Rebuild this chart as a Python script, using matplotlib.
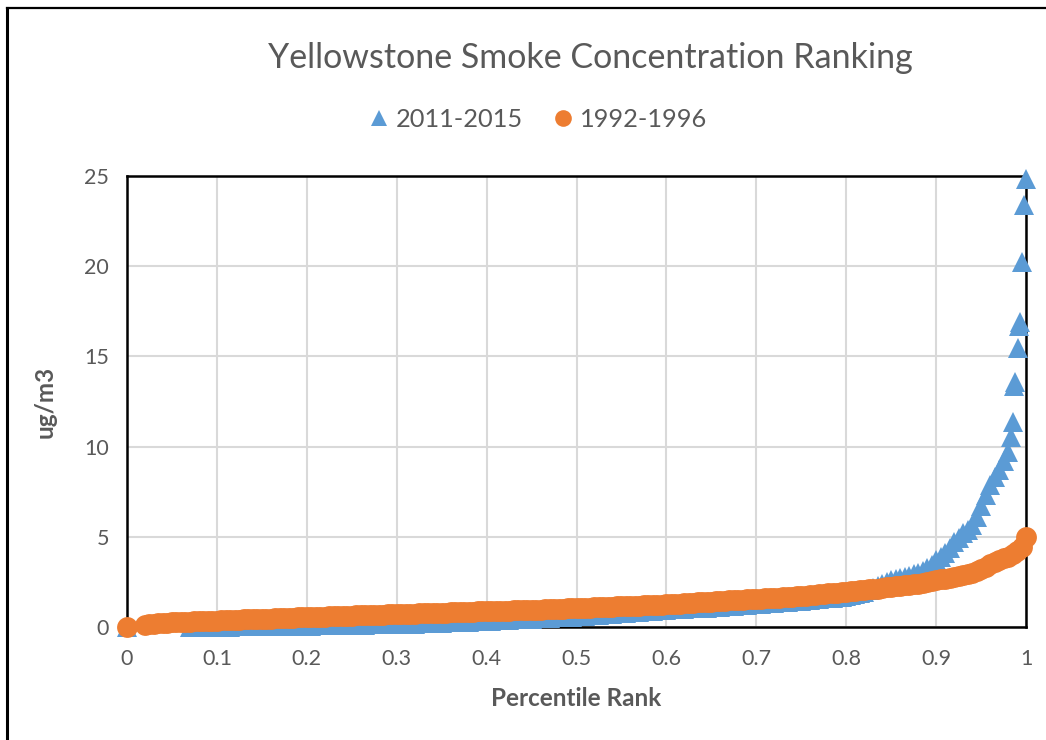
import matplotlib
matplotlib.use('Agg')
import matplotlib.pyplot as plt
from matplotlib.lines import Line2D

plt.rcParams['font.family'] = ['Lato', 'DejaVu Sans']

# 2011-2015: percentile rank and concentration (ug/m3)
rank_2011 = [0.000,
             0.070, 0.075, 0.080, 0.085, 0.090, 0.095,
             0.100, 0.105, 0.110, 0.115, 0.120, 0.125, 0.130, 0.135, 0.140, 0.145,
             0.150, 0.155, 0.160, 0.165, 0.170, 0.175, 0.180, 0.185, 0.190, 0.195,
             0.200, 0.205, 0.210, 0.215, 0.220, 0.225, 0.230, 0.235, 0.240, 0.245,
             0.250, 0.255, 0.260, 0.265, 0.270, 0.275, 0.280, 0.285, 0.290, 0.295,
             0.300, 0.305, 0.310, 0.315, 0.320, 0.325, 0.330, 0.335, 0.340, 0.345,
             0.350, 0.355, 0.360, 0.365, 0.370, 0.375, 0.380, 0.385, 0.390, 0.395,
             0.400, 0.405, 0.410, 0.415, 0.420, 0.425, 0.430, 0.435, 0.440, 0.445,
             0.450, 0.455, 0.460, 0.465, 0.470, 0.475, 0.480, 0.485, 0.490, 0.495,
             0.500, 0.505, 0.510, 0.515, 0.520, 0.525, 0.530, 0.535, 0.540, 0.545,
             0.550, 0.555, 0.560, 0.565, 0.570, 0.575, 0.580, 0.585, 0.590, 0.595,
             0.600, 0.605, 0.610, 0.615, 0.620, 0.625, 0.630, 0.635, 0.640, 0.645,
             0.650, 0.655, 0.660, 0.665, 0.670, 0.675, 0.680, 0.685, 0.690, 0.695,
             0.700, 0.705, 0.710, 0.715, 0.720, 0.725, 0.730, 0.735, 0.740, 0.745,
             0.750, 0.755, 0.760, 0.765, 0.770, 0.775, 0.780, 0.785, 0.790, 0.795,
             0.800, 0.805, 0.810, 0.815, 0.820, 0.825, 0.830, 0.835, 0.840, 0.845,
             0.850, 0.855, 0.860, 0.865, 0.870, 0.875, 0.880, 0.885, 0.890, 0.895,
             0.900, 0.905, 0.910, 0.915, 0.920, 0.925, 0.930, 0.935, 0.940, 0.945,
             0.950, 0.955, 0.960, 0.965, 0.970, 0.975,
             0.980, 0.983, 0.985, 0.987, 0.988, 0.991, 0.992, 0.993, 0.996, 0.998, 1.000]
conc_2011 = [0.00,
             0.00, 0.00, 0.00, 0.00, 0.01, 0.01,
             0.02, 0.02, 0.02, 0.02, 0.03, 0.03, 0.03, 0.03, 0.04, 0.04,
             0.05, 0.05, 0.05, 0.05, 0.06, 0.06, 0.07, 0.07, 0.07, 0.07,
             0.08, 0.08, 0.09, 0.09, 0.10, 0.10, 0.10, 0.10, 0.11, 0.11,
             0.12, 0.12, 0.13, 0.13, 0.14, 0.14, 0.15, 0.15, 0.16, 0.16,
             0.17, 0.17, 0.18, 0.18, 0.19, 0.20, 0.21, 0.21, 0.22, 0.23,
             0.24, 0.25, 0.26, 0.27, 0.28, 0.29, 0.30, 0.31, 0.32, 0.33,
             0.35, 0.36, 0.37, 0.38, 0.40, 0.41, 0.42, 0.43, 0.45, 0.46,
             0.47, 0.48, 0.50, 0.51, 0.52, 0.53, 0.55, 0.56, 0.57, 0.58,
             0.60, 0.61, 0.63, 0.65, 0.67, 0.68, 0.70, 0.72, 0.74, 0.76,
             0.78, 0.79, 0.81, 0.83, 0.85, 0.87, 0.89, 0.91, 0.93, 0.95,
             0.97, 0.98, 1.00, 1.01, 1.02, 1.03, 1.05, 1.06, 1.07, 1.08,
             1.10, 1.11, 1.13, 1.14, 1.16, 1.18, 1.20, 1.21, 1.23, 1.25,
             1.27, 1.29, 1.31, 1.32, 1.34, 1.36, 1.38, 1.40, 1.42, 1.44,
             1.46, 1.48, 1.50, 1.53, 1.56, 1.58, 1.61, 1.63, 1.66, 1.69,
             1.73, 1.77, 1.82, 1.88, 1.95, 2.05, 2.15, 2.28, 2.40, 2.50,
             2.58, 2.65, 2.72, 2.78, 2.85, 2.92, 3.00, 3.10, 3.25, 3.45,
             3.70, 3.90, 4.10, 4.40, 4.70, 4.95, 5.20, 5.40, 5.65, 6.10,
             6.70, 7.30, 7.85, 8.30, 8.70, 9.20,
             9.70, 10.55, 11.35, 13.35, 13.60, 15.45, 16.70, 16.90, 20.25, 23.40, 24.85]

# 1992-1996: percentile rank and concentration (ug/m3)
rank_1992 = [0.000,
             0.020, 0.025, 0.030, 0.035, 0.040, 0.045, 0.050, 0.055,
             0.060, 0.065, 0.070, 0.075, 0.080, 0.085, 0.090, 0.095,
             0.100, 0.105, 0.110, 0.115, 0.120, 0.125, 0.130, 0.135, 0.140, 0.145,
             0.150, 0.155, 0.160, 0.165, 0.170, 0.175, 0.180, 0.185, 0.190, 0.195,
             0.200, 0.205, 0.210, 0.215, 0.220, 0.225, 0.230, 0.235, 0.240, 0.245,
             0.250, 0.255, 0.260, 0.265, 0.270, 0.275, 0.280, 0.285, 0.290, 0.295,
             0.300, 0.305, 0.310, 0.315, 0.320, 0.325, 0.330, 0.335, 0.340, 0.345,
             0.350, 0.355, 0.360, 0.365, 0.370, 0.375, 0.380, 0.385, 0.390, 0.395,
             0.400, 0.405, 0.410, 0.415, 0.420, 0.425, 0.430, 0.435, 0.440, 0.445,
             0.450, 0.455, 0.460, 0.465, 0.470, 0.475, 0.480, 0.485, 0.490, 0.495,
             0.500, 0.505, 0.510, 0.515, 0.520, 0.525, 0.530, 0.535, 0.540, 0.545,
             0.550, 0.555, 0.560, 0.565, 0.570, 0.575, 0.580, 0.585, 0.590, 0.595,
             0.600, 0.605, 0.610, 0.615, 0.620, 0.625, 0.630, 0.635, 0.640, 0.645,
             0.650, 0.655, 0.660, 0.665, 0.670, 0.675, 0.680, 0.685, 0.690, 0.695,
             0.700, 0.705, 0.710, 0.715, 0.720, 0.725, 0.730, 0.735, 0.740, 0.745,
             0.750, 0.755, 0.760, 0.765, 0.770, 0.775, 0.780, 0.785, 0.790, 0.795,
             0.800, 0.805, 0.810, 0.815, 0.820, 0.825, 0.830, 0.835, 0.840, 0.845,
             0.850, 0.855, 0.860, 0.865, 0.870, 0.875, 0.880, 0.885, 0.890, 0.895,
             0.900, 0.905, 0.910, 0.915, 0.920, 0.925, 0.930, 0.935, 0.940, 0.945,
             0.950, 0.955, 0.960, 0.965, 0.970, 0.975, 0.980, 0.985, 0.990, 0.995,
             1.000]
conc_1992 = [0.00,
             0.12, 0.15, 0.18, 0.20, 0.22, 0.24, 0.25, 0.27,
             0.28, 0.29, 0.30, 0.31, 0.32, 0.33, 0.34, 0.35,
             0.36, 0.37, 0.38, 0.39, 0.40, 0.41, 0.42, 0.43, 0.44, 0.45,
             0.46, 0.46, 0.47, 0.48, 0.49, 0.50, 0.51, 0.52, 0.53, 0.54,
             0.55, 0.55, 0.56, 0.57, 0.58, 0.59, 0.60, 0.61, 0.62, 0.62,
             0.63, 0.64, 0.65, 0.65, 0.66, 0.67, 0.68, 0.69, 0.70, 0.70,
             0.71, 0.72, 0.73, 0.73, 0.74, 0.75, 0.76, 0.76, 0.77, 0.78,
             0.79, 0.80, 0.81, 0.81, 0.82, 0.83, 0.84, 0.85, 0.86, 0.86,
             0.87, 0.88, 0.89, 0.90, 0.91, 0.91, 0.92, 0.93, 0.94, 0.95,
             0.96, 0.96, 0.97, 0.98, 0.99, 1.00, 1.01, 1.02, 1.03, 1.04,
             1.05, 1.06, 1.07, 1.08, 1.09, 1.10, 1.11, 1.12, 1.13, 1.14,
             1.15, 1.16, 1.17, 1.18, 1.19, 1.20, 1.21, 1.22, 1.23, 1.24,
             1.25, 1.27, 1.28, 1.30, 1.31, 1.33, 1.34, 1.36, 1.37, 1.39,
             1.40, 1.42, 1.44, 1.45, 1.47, 1.48, 1.50, 1.51, 1.53, 1.54,
             1.56, 1.57, 1.59, 1.60, 1.62, 1.63, 1.65, 1.66, 1.68, 1.70,
             1.72, 1.74, 1.76, 1.78, 1.81, 1.83, 1.86, 1.88, 1.91, 1.93,
             1.96, 1.98, 2.01, 2.03, 2.06, 2.08, 2.11, 2.13, 2.16, 2.19,
             2.22, 2.25, 2.28, 2.31, 2.34, 2.37, 2.41, 2.45, 2.49, 2.54,
             2.60, 2.64, 2.68, 2.72, 2.77, 2.81, 2.86, 2.92, 2.99, 3.08,
             3.20, 3.35, 3.50, 3.60, 3.70, 3.80, 3.90, 4.05, 4.20, 4.45,
             5.00]

x_ticks = [0, 0.1, 0.2, 0.3, 0.4, 0.5, 0.6, 0.7, 0.8, 0.9, 1]
x_tick_labels = ['0', '0.1', '0.2', '0.3', '0.4', '0.5', '0.6', '0.7', '0.8', '0.9', '1']
y_ticks = [0, 5, 10, 15, 20, 25]

blue = '#5B9BD5'
orange = '#ED7D31'
text_gray = '#595959'

fig = plt.figure(figsize=(10.46, 7.4), dpi=100)
ax = fig.add_axes([0.1214, 0.1527, 0.8595, 0.6095])

ax.plot(rank_2011, conc_2011, linestyle='none', marker='^', markersize=14,
        markeredgewidth=0, color=blue, label='2011-2015', clip_on=False, zorder=3)
ax.plot(rank_1992, conc_1992, linestyle='none', marker='o', markersize=15,
        markeredgewidth=0, color=orange, label='1992-1996', clip_on=False, zorder=4)

ax.set_xlim(0, 1)
ax.set_ylim(0, 25)
ax.set_xticks(x_ticks)
ax.set_xticklabels(x_tick_labels)
ax.set_yticks(y_ticks)
ax.grid(True, color='#d9d9d9', linewidth=1.5)
ax.set_axisbelow(True)
ax.tick_params(length=0, labelsize=15.5, labelcolor=text_gray)
ax.tick_params(axis='x', pad=16)
ax.tick_params(axis='y', pad=13)
for side in ['left', 'right', 'top', 'bottom']:
    ax.spines[side].set_color('black')
    ax.spines[side].set_linewidth(1.8)
    ax.spines[side].set_zorder(2.5)

ax.set_xlabel('Percentile Rank', fontsize=17.5, fontweight='bold', color=text_gray, labelpad=13)
ax.set_ylabel('ug/m3', fontsize=17.5, fontweight='bold', color=text_gray, labelpad=20)

fig.text(0.5645, 0.921, 'Yellowstone Smoke Concentration Ranking', fontsize=24.5,
         color=text_gray, ha='center', va='center')

leg = fig.legend(loc='center', bbox_to_anchor=(0.513, 0.838), ncol=2, frameon=False,
                 fontsize=18.3, handlelength=1.0, handletextpad=0.15, columnspacing=1.1,
                 markerscale=0.8)
for t in leg.get_texts():
    t.set_color(text_gray)

# outer frame (left and top edges visible)
fig.add_artist(Line2D([0.0067, 0.0067], [0, 0.989], transform=fig.transFigure,
                      color='black', linewidth=2.2))
fig.add_artist(Line2D([0.0067, 1], [0.989, 0.989], transform=fig.transFigure,
                      color='black', linewidth=1.6))

fig.savefig('out.png', dpi=100)
